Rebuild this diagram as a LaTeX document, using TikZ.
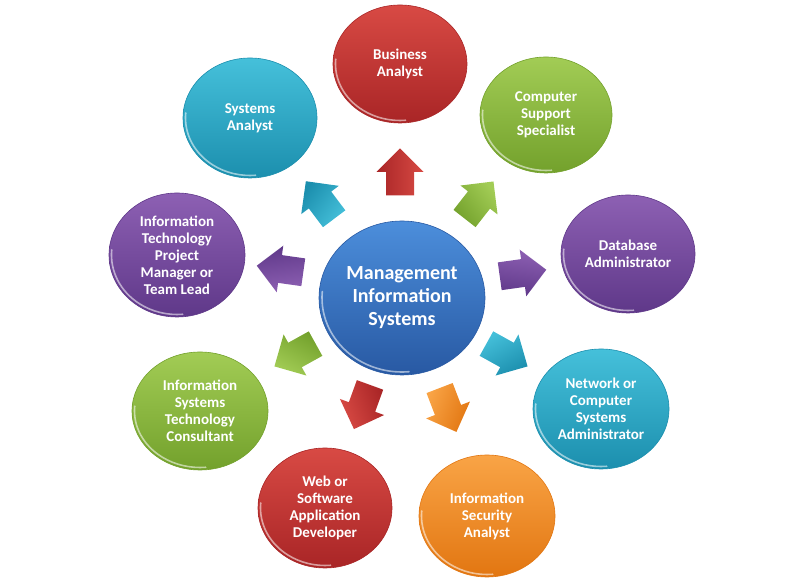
\documentclass[tikz,border=0pt]{standalone}
\usepackage{fontspec}
\setmainfont{Carlito}
\usetikzlibrary{shapes.geometric,calc}
\definecolor{redL}{HTML}{D84A44}\definecolor{redD}{HTML}{A92526}
\definecolor{grnL}{HTML}{A2CC55}\definecolor{grnD}{HTML}{73A12C}
\definecolor{purL}{HTML}{8D60B3}\definecolor{purD}{HTML}{5F3889}
\definecolor{cyaL}{HTML}{45C0DA}\definecolor{cyaD}{HTML}{1C8FAE}
\definecolor{bluL}{HTML}{4C8EDB}\definecolor{bluD}{HTML}{2859A3}
\definecolor{orgL}{HTML}{F9A446}\definecolor{orgD}{HTML}{E27611}
\tikzset{
  role/.style={ellipse, inner sep=0pt, align=center, text=white,
    font=\bfseries\fontsize{15}{17}\selectfont,
    draw=#1D, line width=0.6pt, top color=#1L, bottom color=#1D},
  hub/.style={role=#1, font=\bfseries\fontsize{20}{23}\selectfont},
  rim/.style={white, opacity=0.55, line width=1.6pt, line cap=round},
}
\newcommand\rimarc[3]{%
  \draw[rim] ($(#1.center)+(175:#2 and #3)$) arc[start angle=175, end angle=275, x radius=#2, y radius=#3];}
\newcommand\blockarrow[3]{%
  \begin{scope}[shift={(#1)}, rotate=#2]
    \shade[top color=#3L, bottom color=#3D, shading angle=-#2]
      (-23.5pt,-14pt) -- (0pt,-14pt) -- (0pt,-23.5pt) -- (23.5pt,0pt)
      -- (0pt,23.5pt) -- (0pt,14pt) -- (-23.5pt,14pt) -- cycle;
  \end{scope}}
\begin{document}
\begin{tikzpicture}[x=1pt,y=1pt]
\useasboundingbox (0,0) rectangle (800,580);
% hub
\node[hub=blu, minimum width=166pt, minimum height=154pt] (c) at (402,282) {Management\\Information\\Systems};
% outer roles
\node[role=red, minimum width=134pt, minimum height=118pt] (ba) at (400,516) {Business\\Analyst};
\node[role=grn, minimum width=132pt, minimum height=116pt] (css) at (546,465) {Computer\\Support\\Specialist};
\node[role=pur, minimum width=134pt, minimum height=118pt] (dba) at (628,326) {Database\\Administrator};
\node[role=cya, minimum width=136pt, minimum height=120pt] (net) at (601,171) {Network or\\Computer\\Systems\\Administrator};
\node[role=org, minimum width=136pt, minimum height=122pt] (isa) at (487,64) {Information\\Security\\Analyst};
\node[role=red, minimum width=134pt, minimum height=120pt] (web) at (325,72) {Web or\\Software\\Application\\Developer};
\node[role=grn, minimum width=136pt, minimum height=118pt] (istc) at (200,169) {Information\\Systems\\Technology\\Consultant};
\node[role=pur, minimum width=136pt, minimum height=124pt] (itpm) at (177,325) {Information\\Technology\\Project\\Manager or\\Team Lead};
\node[role=cya, minimum width=134pt, minimum height=120pt] (sa) at (250,462) {Systems\\Analyst};
% rims
\rimarc{c}{80}{74}
\rimarc{ba}{64.5}{56.5}
\rimarc{css}{63.5}{55.5}
\rimarc{dba}{64.5}{56.5}
\rimarc{net}{65.5}{57.5}
\rimarc{isa}{65.5}{58.5}
\rimarc{web}{64.5}{57.5}
\rimarc{istc}{65.5}{56.5}
\rimarc{itpm}{65.5}{59.5}
\rimarc{sa}{64.5}{57.5}
% arrow anchors
\coordinate (aba) at (400,408);
\coordinate (acss) at (479,380);
\coordinate (adba) at (523,307);
\coordinate (anet) at (507,225);
\coordinate (aisa) at (448,170);
\coordinate (aweb) at (362,173);
\coordinate (aistc) at (295,225);
\coordinate (aitpm) at (280,311);
\coordinate (asa) at (320,380);
\blockarrow{aba}{90}{red}
\blockarrow{acss}{52}{grn}
\blockarrow{adba}{8}{pur}
\blockarrow{anet}{-29}{cya}
\blockarrow{aisa}{-69}{org}
\blockarrow{aweb}{-110}{red}
\blockarrow{aistc}{209}{grn}
\blockarrow{aitpm}{172}{pur}
\blockarrow{asa}{127}{cya}
\end{tikzpicture}
\end{document}
